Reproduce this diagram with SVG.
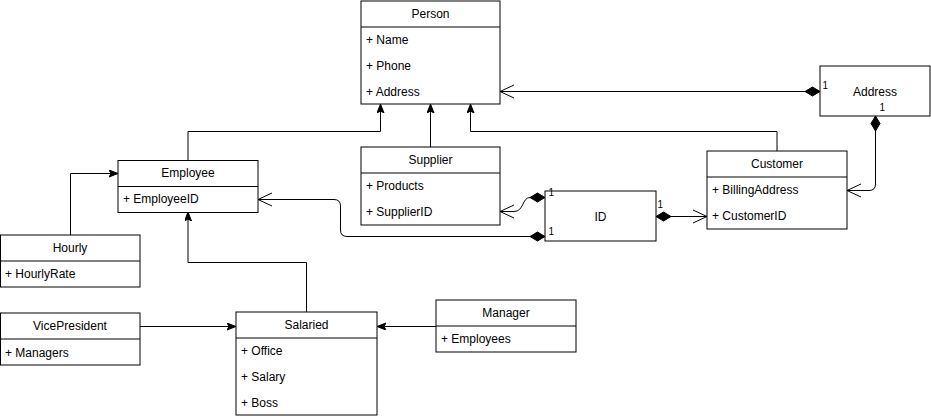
<svg xmlns="http://www.w3.org/2000/svg" width="931" height="419" viewBox="0 0 931 419">
<style>
.box{fill:#fff;stroke:#000;stroke-width:1}
.sep{stroke:#000;stroke-width:1}
.t{font-family:"Liberation Sans",Arial,Helvetica,sans-serif;font-size:12px;fill:#000}
.c{text-anchor:middle}
.lbl{font-family:"Liberation Sans",Arial,Helvetica,sans-serif;font-size:10px;fill:#000}
.e{fill:none;stroke:#000;stroke-width:1}
.gen{marker-end:url(#block)}
.own{marker-start:url(#diamond);marker-end:url(#open)}
</style>
<defs>
<marker id="block" markerUnits="userSpaceOnUse" markerWidth="12" markerHeight="10" refX="9" refY="3.5" orient="auto">
<path d="M0,0 L9,3.5 L0,7 L2,3.5 z" fill="#000" stroke="#000" stroke-width="1"/>
</marker>
<marker id="open" markerUnits="userSpaceOnUse" markerWidth="16" markerHeight="16" refX="14" refY="7" orient="auto" overflow="visible">
<path d="M0,0.5 L14,7 L0,13.5" fill="none" stroke="#000" stroke-width="1"/>
</marker>
<marker id="diamond" markerUnits="userSpaceOnUse" markerWidth="17" markerHeight="11" refX="0" refY="4.5" orient="auto" overflow="visible">
<path d="M0,4.5 L7.5,0 L15,4.5 L7.5,9 z" fill="#000" stroke="#000" stroke-width="1"/>
</marker>
</defs>

<g id="connectors">
<path class="e gen" d="M188,160 V131.5 H380.5 V104"/>
<path class="e gen" d="M430.5,147 V104"/>
<path class="e gen" d="M777,151 V131.5 H470.5 V104"/>
<path class="e gen" d="M70.5,235 V173.5 H118"/>
<path class="e gen" d="M306.5,312 V262.5 H188 V212"/>
<path class="e gen" d="M140,326.5 H236"/>
<path class="e gen" d="M436,326.5 H377"/>
<path class="e own" d="M820,91.5 H500"/>
<path class="e own" d="M875.5,116 V184 Q875.5,190.5 869,190.5 H847"/>
<path class="e own" d="M545,197.5 H530 C522,197.5 524,211.5 514,211.5 H500"/>
<path class="e own" d="M545,236.5 H347 Q340.5,236.5 340.5,230 V206 Q340.5,199.5 334,199.5 H258"/>
<path class="e own" d="M656,216.5 H707"/>
</g>

<g id="person">
<rect class="box" x="361" y="1" width="139" height="103"/>
<line class="sep" x1="361" y1="27" x2="500" y2="27"/>
<text class="t c" x="430.5" y="18">Person</text>
<text class="t" x="366" y="44">+ Name</text>
<text class="t" x="366" y="70">+ Phone</text>
<text class="t" x="366" y="96">+ Address</text>
</g>

<g id="supplier">
<rect class="box" x="361" y="147" width="139" height="78"/>
<line class="sep" x1="361" y1="173" x2="500" y2="173"/>
<text class="t c" x="430.5" y="164">Supplier</text>
<text class="t" x="366" y="190">+ Products</text>
<text class="t" x="366" y="216">+ SupplierID</text>
</g>

<g id="employee">
<rect class="box" x="118" y="160.5" width="140" height="52"/>
<line class="sep" x1="118" y1="186.5" x2="258" y2="186.5"/>
<text class="t c" x="188" y="177">Employee</text>
<text class="t" x="123" y="203">+ EmployeeID</text>
</g>

<g id="hourly">
<rect class="box" x="0.5" y="235" width="139.5" height="52"/>
<line class="sep" x1="0.5" y1="261" x2="140" y2="261"/>
<text class="t c" x="70" y="252">Hourly</text>
<text class="t" x="5" y="278">+ HourlyRate</text>
</g>

<g id="vicepresident">
<rect class="box" x="0.5" y="313" width="139.5" height="52"/>
<line class="sep" x1="0.5" y1="339" x2="140" y2="339"/>
<text class="t c" x="70" y="330">VicePresident</text>
<text class="t" x="5" y="357">+ Managers</text>
</g>

<g id="salaried">
<rect class="box" x="236" y="312" width="141" height="103"/>
<line class="sep" x1="236" y1="338" x2="377" y2="338"/>
<text class="t c" x="306.5" y="329">Salaried</text>
<text class="t" x="241" y="355">+ Office</text>
<text class="t" x="241" y="381">+ Salary</text>
<text class="t" x="241" y="407">+ Boss</text>
</g>

<g id="manager">
<rect class="box" x="436" y="300" width="140" height="52"/>
<line class="sep" x1="436" y1="326" x2="576" y2="326"/>
<text class="t c" x="506" y="317">Manager</text>
<text class="t" x="441" y="343">+ Employees</text>
</g>

<g id="customer">
<rect class="box" x="707" y="151" width="140" height="78"/>
<line class="sep" x1="707" y1="177" x2="847" y2="177"/>
<text class="t c" x="777" y="168">Customer</text>
<text class="t" x="712" y="194">+ BillingAddress</text>
<text class="t" x="712" y="220">+ CustomerID</text>
</g>

<g id="address">
<rect class="box" x="820" y="66" width="110" height="50"/>
<text class="t c" x="875" y="95.5">Address</text>
</g>

<g id="id">
<rect class="box" x="545" y="191" width="111" height="50"/>
<text class="t c" x="600.5" y="220.5">ID</text>
</g>

<g id="connector-labels">
<text class="lbl" x="822.5" y="88.5">1</text>
<text class="lbl" x="879.5" y="111">1</text>
<text class="lbl" x="548.5" y="196">1</text>
<text class="lbl" x="548.5" y="235">1</text>
<text class="lbl" x="657.5" y="208">1</text>
</g>
</svg>
